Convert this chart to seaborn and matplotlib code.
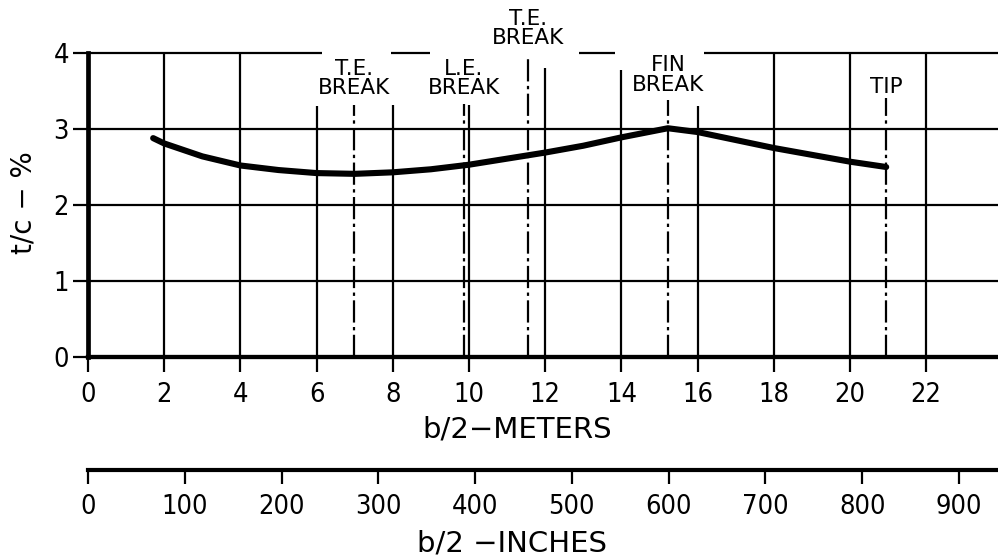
import matplotlib
matplotlib.use("Agg")
import matplotlib.pyplot as plt
import pandas as pd
import seaborn as sns

# Thickness-to-chord ratio along the semispan
span_m = [1.71, 2.0, 3.0, 4.0, 5.0, 6.0, 7.0, 8.0, 9.0, 10.0, 11.0, 12.0,
          13.0, 14.0, 15.22, 16.0, 18.0, 20.0, 20.95]
tc_pct = [2.88, 2.81, 2.64, 2.52, 2.46, 2.42, 2.41, 2.43, 2.47, 2.53, 2.61, 2.69,
          2.78, 2.89, 3.01, 2.96, 2.75, 2.57, 2.50]

# Planform break stations
break_span_m = [6.98, 9.87, 11.55, 15.22, 20.95]
break_labels = ["T.E.\nBREAK", "L.E.\nBREAK", "T.E.\nBREAK", "FIN\nBREAK", "TIP"]

# Axis ticks
meter_ticks = [0, 2, 4, 6, 8, 10, 12, 14, 16, 18, 20, 22]
inch_ticks = [0, 100, 200, 300, 400, 500, 600, 700, 800, 900]
tc_ticks = [0, 1, 2, 3, 4]

M_PER_IN = 0.0254

sns.set_theme(style="ticks")
plt.rcParams["font.family"] = ["DejaVu Sans"]
for key in ["text.color", "axes.labelcolor", "xtick.color", "ytick.color",
            "axes.edgecolor"]:
    plt.rcParams[key] = "black"

W, H = 998, 560
fig = plt.figure(figsize=(W / 100, H / 100), dpi=100)
PX_PER_M = 38.1
X0, Y0, YTOP = 88, 357, 53
ax = fig.add_axes([X0 / W, (H - Y0) / H, (W - X0) / W, (Y0 - YTOP) / H])
x_max = (W - X0) / PX_PER_M

GRID_LW = 1.6
INK = "black"

# grid: vertical lines stop short under the station labels
grid_tops = {6: 3.30, 8: 3.31, 10: 3.32, 12: 3.80, 14: 3.78, 16: 3.30}
for xv in meter_ticks[1:]:
    ax.vlines(xv, 0, grid_tops.get(xv, 4.0), color=INK, lw=GRID_LW, zorder=1,
              clip_on=False)
for yv in tc_ticks[1:-1]:
    ax.hlines(yv, 0, x_max, color=INK, lw=GRID_LW, zorder=1, clip_on=False)
# top border line, interrupted by the labels
for a, b in [(0, 6.14), (7.95, 8.98), (12.89, 13.83), (16.17, x_max)]:
    ax.hlines(4.0, a, b, color=INK, lw=GRID_LW, zorder=1, clip_on=False)

# break stations: dash-dot lines with labels above
line_tops = [3.32, 3.33, 3.97, 3.38, 3.41]
label_y = [3.66, 3.66, 4.32, 3.71, 3.55]
for xb, top, lab, ly in zip(break_span_m, line_tops, break_labels, label_y):
    ax.vlines(xb, 0, top, color=INK, lw=GRID_LW, zorder=1, clip_on=False,
              linestyles=[(0, (10, 2, 1.5, 2))])
    ax.text(xb, ly, lab, ha="center", va="center", fontsize=15.5,
            linespacing=0.95, color=INK, clip_on=False)

# thickness curve
df = pd.DataFrame({"span": span_m, "tc": tc_pct})
sns.lineplot(data=df, x="span", y="tc", ax=ax, color=INK, linewidth=4.4,
             sort=False, estimator=None, zorder=3)

ax.set_xlim(0, x_max)
ax.set_ylim(0, 4)
ax.set_xticks(meter_ticks)
ax.set_yticks(tc_ticks)
ax.set_xticklabels([str(t) for t in meter_ticks])
ax.set_yticklabels([str(t) for t in tc_ticks])

for side in ["top", "right"]:
    ax.spines[side].set_visible(False)
ax.spines["left"].set_linewidth(3.4)
ax.spines["bottom"].set_linewidth(3.1)
ax.spines["left"].set_zorder(4)
ax.spines["bottom"].set_zorder(4)

ax.tick_params(axis="x", direction="out", length=10.8, width=GRID_LW, pad=7,
               labelsize=19.5)
ax.tick_params(axis="y", direction="out", length=10.8, width=GRID_LW, pad=3,
               labelsize=19.5)
for lab in ax.get_xticklabels() + ax.get_yticklabels():
    lab.set_fontstretch("condensed")

ax.set_xlabel("b/2\u2212METERS", fontsize=21, va="center")
ax.xaxis.set_label_coords(517 / W, (H - 430) / H, transform=fig.transFigure)
ax.set_ylabel("t/c \u2212 %", fontsize=20, va="center")
ax.yaxis.set_label_coords(24 / W, (H - 203) / H, transform=fig.transFigure)

# second scale in inches below the plot
sec = ax.secondary_xaxis((Y0 - 470) / (Y0 - YTOP),
                         functions=(lambda m: m / M_PER_IN,
                                    lambda i: i * M_PER_IN))
sec.set_xticks(inch_ticks)
sec.set_xticklabels([str(t) for t in inch_ticks])
sec.spines["bottom"].set_linewidth(3.0)
sec.tick_params(axis="x", direction="out", length=10, width=GRID_LW, pad=7,
                labelsize=19.5)
for lab in sec.get_xticklabels():
    lab.set_fontstretch("condensed")
sec.set_xlabel("b/2 \u2212INCHES", fontsize=21, va="center")
sec.xaxis.set_label_coords(512 / W, (H - 544) / H, transform=fig.transFigure)

fig.savefig("out.png", dpi=100, facecolor="white")
